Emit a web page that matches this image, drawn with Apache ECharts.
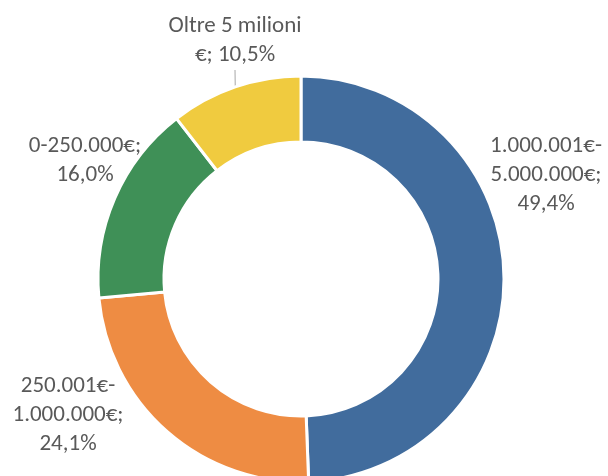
<!DOCTYPE html>
<html>
<head>
<meta charset="utf-8">
<script src="https://cdn.jsdelivr.net/npm/echarts@6/dist/echarts.min.js"></script>
<style>
  html, body { margin: 0; padding: 0; background: #fff; }
  #chart { width: 608px; height: 476px; }
</style>
</head>
<body>
<div id="chart"></div>
<script>
const categories = ['1.000.001€-\n5.000.000€', '250.001€-\n1.000.000€', '0-250.000€', 'Oltre 5 milioni\n€']
const values = [49.4, 24.1, 16.0, 10.5]
const colors = ['#416C9D', '#EE8C43', '#3F9057', '#F0CB3F']

// posizione delle etichette (stile Excel)
const labelPos = [
  { x: 546, y: 175 },
  { x: 68, y: 415 },
  { x: 85, y: 161 },
  { x: 235, y: 41 }
]

const chart = echarts.init(document.getElementById('chart'))

chart.setOption({
  animation: false,
  series: [
    {
      type: 'pie',
      center: [301, 279],
      radius: [137, 203],
      startAngle: 90,
      clockwise: true,
      data: categories.map((name, i) => ({
        name,
        value: values[i],
        itemStyle: { color: colors[i] },
        labelLine: { show: i === 3 }
      })),
      itemStyle: { borderColor: '#fff', borderWidth: 3 },
      label: {
        show: true,
        position: 'outside',
        color: '#595959',
        fontSize: 23,
        lineHeight: 29,
        fontFamily: 'Carlito, Lato, sans-serif',
        align: 'center',
        overflow: 'none',
        formatter: (p) => {
          const pct = p.value.toFixed(1).replace('.', ',') + '%'
          return p.dataIndex === 3 ? `${p.name}; ${pct}` : `${p.name};\n${pct}`
        }
      },
      labelLine: {
        show: false,
        length: 10,
        length2: 0,
        lineStyle: { color: '#A6A6A6', width: 1 }
      },
      labelLayout: (params) => ({
        x: labelPos[params.dataIndex].x,
        y: labelPos[params.dataIndex].y,
        align: 'center',
        verticalAlign: 'middle'
      })
    }
  ]
})
</script>
</body>
</html>
